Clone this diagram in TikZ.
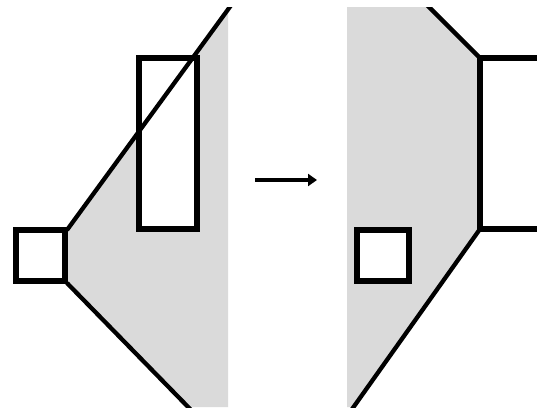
\documentclass[tikz,border=0pt]{standalone}
\usetikzlibrary{arrows.meta}
\definecolor{shade}{RGB}{218,218,218}
\begin{document}
\begin{tikzpicture}[x=1pt,y=-1pt,
  boxline/.style={draw=black,line width=6.5pt,fill=white,line join=miter},
  edgeline/.style={draw=black,line width=4.3pt},
  shadefill/.style={fill=shade,draw=none}]
\useasboundingbox (0,0) rectangle (537,407);
\clip (0,7) rectangle (537,407);
% left panel
\coordinate (lA) at (67,230);
\coordinate (lB) at (232,4);
\coordinate (lC) at (67,283);
\coordinate (lD) at (193,412);
\fill[shadefill] (lA) -- (232,4) -- (228,4) -- (228,407) -- (189,407) -- (lC) -- cycle;
\draw[edgeline] (lC) -- (lD);
\draw[boxline] (16,230) rectangle (65,281);
\draw[boxline] (139,58) rectangle (197,229);
\draw[edgeline] (lA) -- (lB);
% arrow
\coordinate (aS) at (255,180);
\coordinate (aE) at (317,180);
\draw[line width=4.5pt,-{Triangle[length=9pt,width=12pt]}] (aS) -- (aE);
% right panel
\coordinate (rA) at (426,4);
\coordinate (rB) at (480,58);
\coordinate (rC) at (480,229);
\coordinate (rD) at (350,412);
\fill[shadefill] (347,4) -- (426,4) -- (rB) -- (rC) -- (353,407) -- (347,407) -- cycle;
\draw[edgeline] (rA) -- (rB);
\draw[edgeline] (rC) -- (rD);
\draw[boxline] (545,58) -- (480,58) -- (480,229) -- (545,229);
\draw[boxline] (357,230) rectangle (409,281);
\end{tikzpicture}
\end{document}
